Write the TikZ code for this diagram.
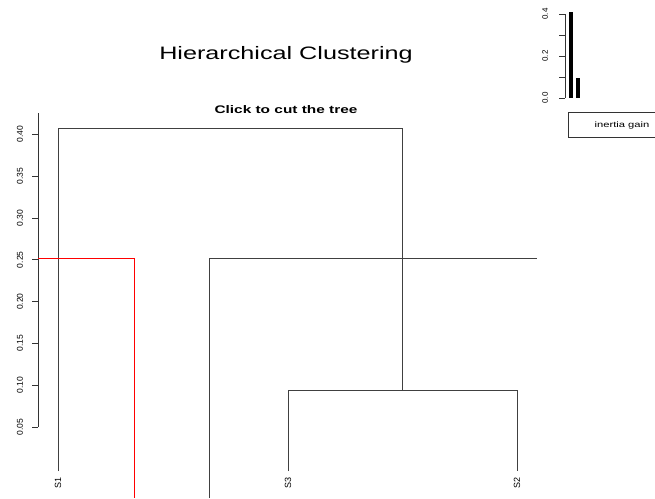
\documentclass[tikz,border=0pt]{standalone}
\usepackage{fontspec}
\setmainfont{Liberation Sans}
\begin{document}
\begin{tikzpicture}[x=1pt,y=-1pt,
  dline/.style={draw=black!75,line width=0.9pt},
  cutline/.style={draw=red,line width=0.9pt},
  axline/.style={draw=black!80,line width=0.9pt},
  ticklab/.style={font=\fontsize{8.5}{9}\selectfont,rotate=90,inner sep=0pt},
  leaflab/.style={font=\fontsize{9}{10}\selectfont,rotate=90,inner sep=0pt},
  wide/.style={xscale=1.4,inner sep=0pt},
  bar/.style={fill=black,draw=none}]
\useasboundingbox[fill=white] (0,0) rectangle (655,498);
% titles
\node[wide,font=\fontsize{18}{20}\selectfont] (title) at (286,55) {Hierarchical Clustering};
\node[wide,font=\bfseries\fontsize{11}{12}\selectfont] (sub) at (286,110) {Click to cut the tree};
% y axis
\coordinate (ytop) at (38,113);
\coordinate (ybot) at (38,427);
\draw[axline] (ytop) -- (ybot);
\foreach \v/\lab [count=\i] in {0.40/0.40,0.35/0.35,0.30/0.30,0.25/0.25,0.20/0.20,0.15/0.15,0.10/0.10,0.05/0.05}{
  \pgfmathsetmacro{\yy}{427-(\v-0.05)/0.05*41.8}
  \draw[axline] (32,\yy) -- (38,\yy);
  \node[ticklab] (yl\i) at (20,\yy) {\lab};
}
% dendrogram
\coordinate (s1top) at (58,128);
\coordinate (rtop) at (402,128);
\coordinate (rmid) at (402,390);
\coordinate (s3top) at (288,390);
\coordinate (s2top) at (517,390);
\coordinate (s1bot) at (58,471);
\coordinate (s3bot) at (288,471);
\coordinate (s2bot) at (517,471);
\draw[dline] (s1bot) -- (s1top) -- (rtop) -- (rmid);
\draw[dline] (s3bot) -- (s3top) -- (s2top) -- (s2bot);
\node[leaflab] (S1) at (58,483) {S1};
\node[leaflab] (S3) at (288,483) {S3};
\node[leaflab] (S2) at (517,483) {S2};
% horizontal line of the cut and extra branch
\coordinate (hl) at (209,258);
\coordinate (hr) at (537,258);
\coordinate (hb) at (209,498);
\draw[dline] (hb) -- (hl) -- (hr);
% red cut
\coordinate (rl) at (38,258);
\coordinate (rr) at (134,258);
\coordinate (rb) at (134,498);
\draw[cutline] (rl) -- (rr) -- (rb);
% inertia gain inset
\draw[axline,line width=0.7pt] (565,14) -- (565,98);
\foreach \yy in {14,35,56,77,98}{\draw[axline,line width=0.7pt] (559,\yy) -- (565,\yy);}
\node[ticklab,font=\fontsize{8}{9}\selectfont] (b04) at (545,14) {0.4};
\node[ticklab,font=\fontsize{8}{9}\selectfont] (b02) at (545,56) {0.2};
\node[ticklab,font=\fontsize{8}{9}\selectfont] (b00) at (545,98) {0.0};
\fill[bar] (569,12) rectangle (573,98);
\fill[bar] (576,78) rectangle (580,98);
\draw[black!80,line width=0.7pt] (568,112) -- (660,112);
\draw[black!80,line width=0.7pt] (568,112) -- (568,137) -- (660,137);
\node[wide,font=\fontsize{8}{9}\selectfont] (ig) at (622,125) {inertia gain};
\end{tikzpicture}
\end{document}
